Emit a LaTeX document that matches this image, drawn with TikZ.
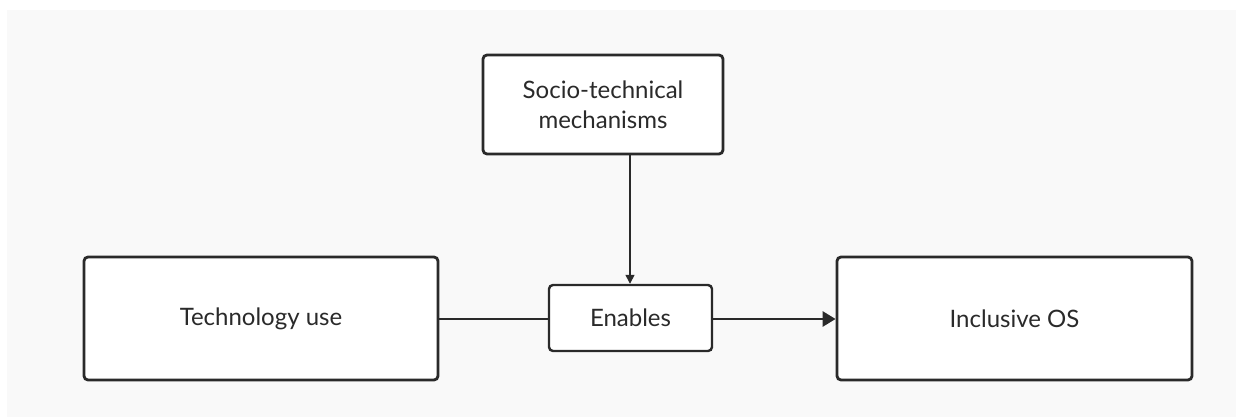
\documentclass[tikz,border=0pt]{standalone}
\usepackage{fontspec}
\setmainfont{Lato}
\usetikzlibrary{arrows.meta}
\definecolor{panel}{HTML}{F9F9F9}
\definecolor{ink}{HTML}{2A2A2A}
\tikzset{
  box/.style={draw=ink, line width=2.8pt, fill=white, rounded corners=4pt,
    align=center, inner sep=0pt, text=ink,
    font=\fontsize{24}{30}\selectfont},
  link/.style={draw=ink, line width=2.8pt},
  feed/.style={draw=ink, line width=1.4pt, -{Triangle[length=9pt,width=9pt]}}
}
\begin{document}
\begin{tikzpicture}[x=1pt, y=-1pt]
  \useasboundingbox (0,0) rectangle (1236,417);
  \fill[panel] (7,10) rectangle (1236,417);

  \node[box, minimum width=240pt, minimum height=99pt] (mech) at (603,104.5)
    {Socio-technical\\mechanisms};
  \node[box, minimum width=354pt, minimum height=123pt] (tech) at (261,318.5)
    {Technology use};
  \node[box, line width=2.4pt, minimum width=163pt, minimum height=66pt] (enab) at (630.5,318)
    {Enables};
  \node[box, minimum width=355pt, minimum height=123pt] (incl) at (1014.5,318.5)
    {Inclusive OS};

  \draw[link] (tech.east |- 0,319) -- (enab.west |- 0,319);
  \draw[link, -{Triangle[length=13pt,width=15pt]}] (enab.east |- 0,319) -- (incl.west |- 0,319);
  \draw[feed] (mech.south -| 630,0) -- (enab.north -| 630,0);
\end{tikzpicture}
\end{document}
